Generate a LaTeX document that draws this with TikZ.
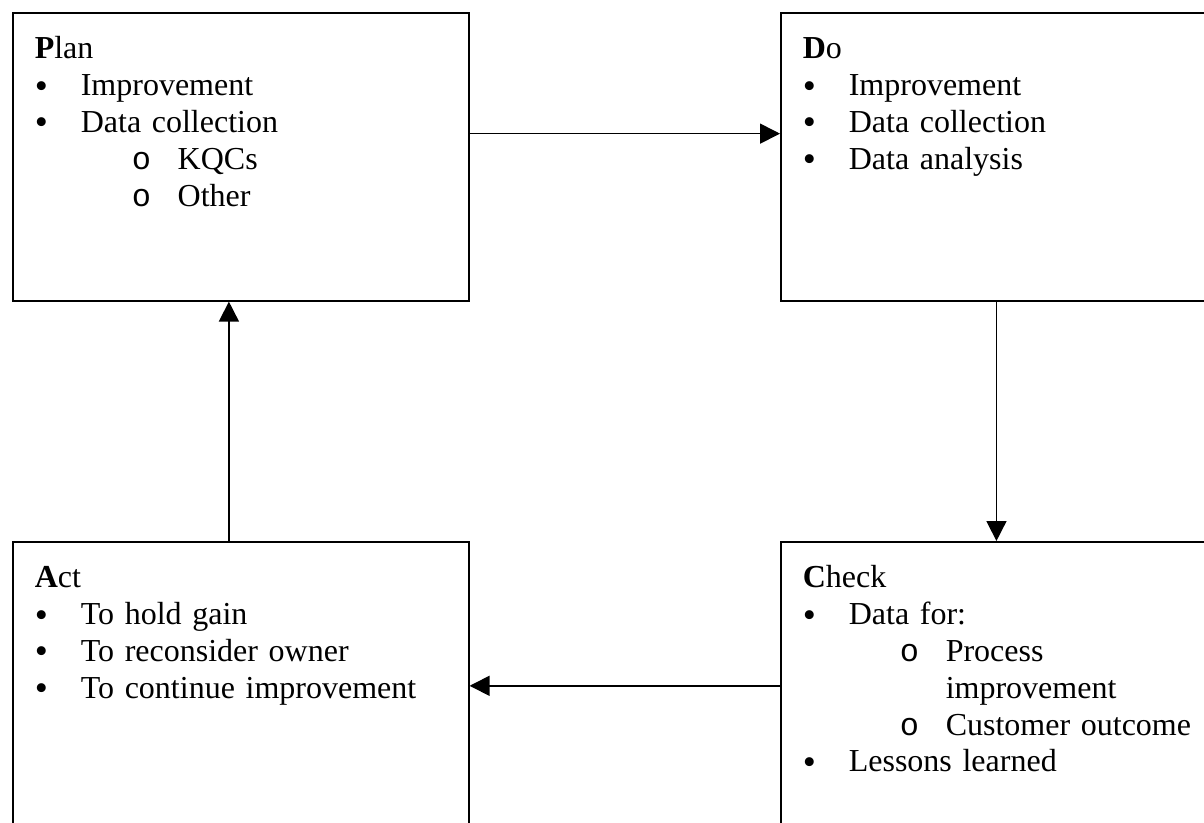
\documentclass[tikz,border=0pt]{standalone}
\usepackage{fontspec}
\setmainfont{Liberation Serif}
\newfontfamily\monofont{Liberation Mono}
\usetikzlibrary{arrows.meta,positioning,calc}
\newcommand\pnt[1]{\par\noindent\makebox[17.25pt][l]{\raisebox{-0.9pt}{\fontsize{14}{13.8}\selectfont\textbullet}}#1}
\newcommand\subpnt[1]{\par\hangindent=53.6pt\hangafter=1\noindent\hspace*{36.4pt}\makebox[17.2pt][l]{\monofont o}#1}
\tikzset{every picture/.append style={line width=0.6pt},>={Triangle[length=7.5pt,width=7.5pt]}}

\begin{document}
\begin{tikzpicture}[x=0.375pt,y=-0.375pt]
      \tikzstyle{stage}=[rectangle,draw,anchor=north west,minimum width=171pt,minimum height=108pt,inner sep=0pt]
      \tikzstyle{notes}=[anchor=north west,text width=150pt,align=left,inner xsep=8.25pt,inner ysep=7.6pt,font=\fontsize{12}{13.8}\selectfont]
      \clip (0,0) rectangle (1204,822);
      \node[stage] at (12,12) (P) {};
      \node[stage] at (780,12) (D) {};
      \node[stage] at (780,541) (C) {};
      \node[stage] at (12,541) (A) {};
      \node[notes] at (P.north west) (Ptext) {\strut\textbf{P}lan
        \pnt{Improvement}
        \pnt{Data collection}
        \subpnt{KQCs}
        \subpnt{Other}};
      \node[notes] at (D.north west) (Dtext) {\strut\textbf{D}o
        \pnt{Improvement}
        \pnt{Data collection}
        \pnt{Data analysis}};
      \node[notes] at (C.north west) (Ctext) {\strut\textbf{C}heck
        \pnt{Data for:}
        \subpnt{Process\newline improvement}
        \subpnt{Customer outcome}
        \pnt{Lessons learned}};
      \node[notes] at (A.north west) (Atext) {\strut\textbf{A}ct
        \pnt{To hold gain}
        \pnt{To reconsider owner}
        \pnt{To continue improvement}};
      \draw[->] ($(P.north east)!0.42!(P.south east)$) -- ($(D.north west)!0.42!(D.south west)$);
      \draw[->] ($(D.south west)!0.473!(D.south east)$) -- ($(C.north west)!0.473!(C.north east)$);
      \draw[->] (C.west) -- (A.east);
      \draw[->] ($(A.north west)!0.474!(A.north east)$) -- ($(P.south west)!0.474!(P.south east)$);
    \end{tikzpicture}
\end{document}
